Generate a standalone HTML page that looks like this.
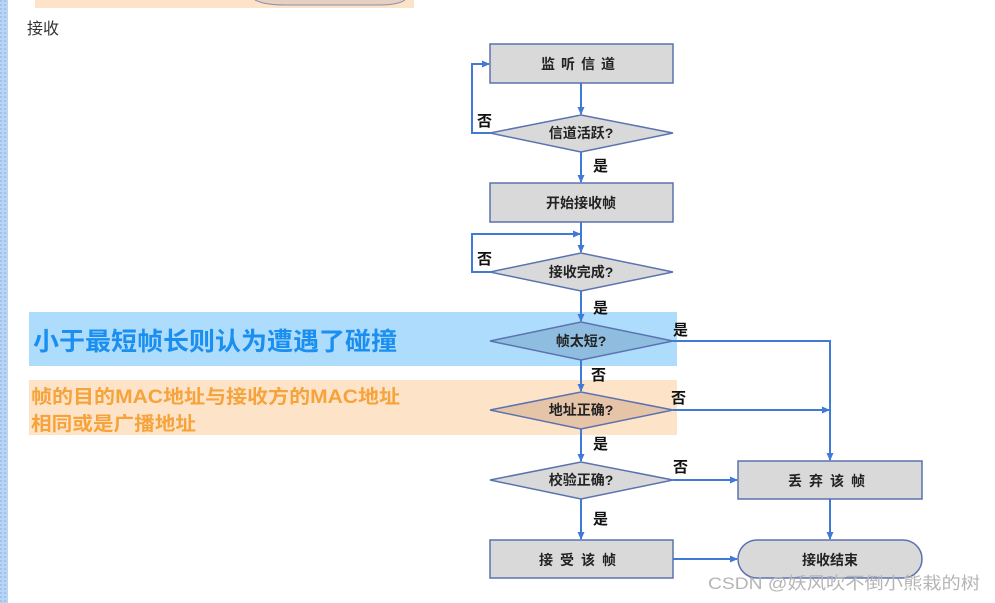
<!DOCTYPE html>
<html><head><meta charset="utf-8"><style>
html,body{margin:0;padding:0;background:#fff;width:995px;height:603px;overflow:hidden}
svg{display:block}
text{font-family:"Liberation Sans","Noto Sans CJK SC",sans-serif}
</style></head><body>
<svg width="995" height="603" viewBox="0 0 995 603" xmlns="http://www.w3.org/2000/svg">
<defs>
<marker id="a" markerWidth="8" markerHeight="8" refX="7" refY="4" orient="auto" markerUnits="userSpaceOnUse">
<path d="M0,0.5 L8,4 L0,7.5 z" fill="#3f7ad6"/></marker>
<pattern id="dots" width="4" height="4" patternUnits="userSpaceOnUse"><rect width="4" height="4" fill="#b9d4f5"/><rect width="2" height="2" fill="#9fc2ee"/></pattern>
</defs>
<rect x="0" y="0" width="8" height="603" fill="url(#dots)"/>
<rect x="35" y="0" width="379" height="8" fill="#fde3c8"/>
<path d="M255,0 Q265,5 285,5 L380,5 Q398,5 405,0" fill="#e6d0bf" stroke="#8a8fb0" stroke-width="1"/>
<text x="27" y="34" font-size="16" fill="#333">接收</text>

<rect x="29" y="312" width="648" height="54" fill="#aedcfc"/>
<rect x="29" y="380" width="648" height="55" fill="#fde3c8"/>
<text x="33" y="350" font-size="25" font-weight="bold" fill="#1a8ff0" textLength="364" lengthAdjust="spacingAndGlyphs">小于最短帧长则认为遭遇了碰撞</text>
<text x="31" y="403" font-size="19" font-weight="bold" fill="#f6a33c" textLength="369" lengthAdjust="spacingAndGlyphs">帧的目的MAC地址与接收方的MAC地址</text>
<text x="31" y="430" font-size="19" font-weight="bold" fill="#f6a33c" textLength="165" lengthAdjust="spacingAndGlyphs">相同或是广播地址</text>

<g stroke="#3f7ad6" stroke-width="2" fill="none">
<line x1="581" y1="83" x2="581" y2="114" marker-end="url(#a)"/>
<polyline points="492,133 472,133 472,64 489,64" marker-end="url(#a)"/>
<line x1="581" y1="152" x2="581" y2="182" marker-end="url(#a)"/>
<line x1="581" y1="222" x2="581" y2="252" marker-end="url(#a)"/>
<polyline points="492,272 472,272 472,234 580,234" marker-end="url(#a)"/>
<line x1="581" y1="291" x2="581" y2="321" marker-end="url(#a)"/>
<polyline points="673,341 830,341 830,460" marker-end="url(#a)"/>
<line x1="581" y1="360" x2="581" y2="391" marker-end="url(#a)"/>
<line x1="673" y1="410" x2="829" y2="410" marker-end="url(#a)"/>
<line x1="581" y1="429" x2="581" y2="461" marker-end="url(#a)"/>
<line x1="673" y1="480" x2="737" y2="480" marker-end="url(#a)"/>
<line x1="581" y1="499" x2="581" y2="539" marker-end="url(#a)"/>
<line x1="830" y1="499" x2="830" y2="539" marker-end="url(#a)"/>
<line x1="673" y1="559" x2="737" y2="559" marker-end="url(#a)"/>
</g>

<g stroke="#5b72b0" stroke-width="1.5">
<rect x="490" y="44" width="183" height="39" fill="#d9d9d9"/>
<polygon points="490,133 581,115 673,133 581,152" fill="#d9d9d9"/>
<rect x="490" y="183" width="183" height="39" fill="#d9d9d9"/>
<polygon points="490,272 581,253 673,272 581,291" fill="#d9d9d9"/>
<polygon points="490,341 581,322 673,341 581,360" fill="#8fbde0"/>
<polygon points="490,410 581,392 673,410 581,429" fill="#e5c4a8"/>
<polygon points="490,480 581,462 673,480 581,499" fill="#d9d9d9"/>
<rect x="738" y="461" width="184" height="38" fill="#d9d9d9"/>
<rect x="490" y="540" width="183" height="38" fill="#d9d9d9"/>
<rect x="738" y="540" width="184" height="38" rx="19" fill="#d9d9d9"/>
</g>

<g font-size="14" font-weight="bold" fill="#222" text-anchor="middle">
<text x="581" y="69" letter-spacing="6">监听信道</text>
<text x="581" y="138">信道活跃?</text>
<text x="581" y="208">开始接收帧</text>
<text x="581" y="277">接收完成?</text>
<text x="581" y="346">帧太短?</text>
<text x="581" y="415">地址正确?</text>
<text x="581" y="485">校验正确?</text>
<text x="830" y="486" letter-spacing="7">丢弃该帧</text>
<text x="581" y="565" letter-spacing="7">接受该帧</text>
<text x="830" y="565">接收结束</text>
</g>
<g font-size="15" font-weight="bold" fill="#111">
<text x="477" y="126">否</text>
<text x="593" y="171">是</text>
<text x="477" y="264">否</text>
<text x="593" y="313">是</text>
<text x="673" y="335">是</text>
<text x="591" y="380">否</text>
<text x="671" y="403">否</text>
<text x="593" y="449">是</text>
<text x="673" y="472">否</text>
<text x="593" y="524">是</text>
</g>
<text x="708" y="589" font-size="17" fill="#b5b5b5" textLength="272" lengthAdjust="spacingAndGlyphs">CSDN @妖风吹不倒小熊栽的树</text>
</svg>
</body></html>
